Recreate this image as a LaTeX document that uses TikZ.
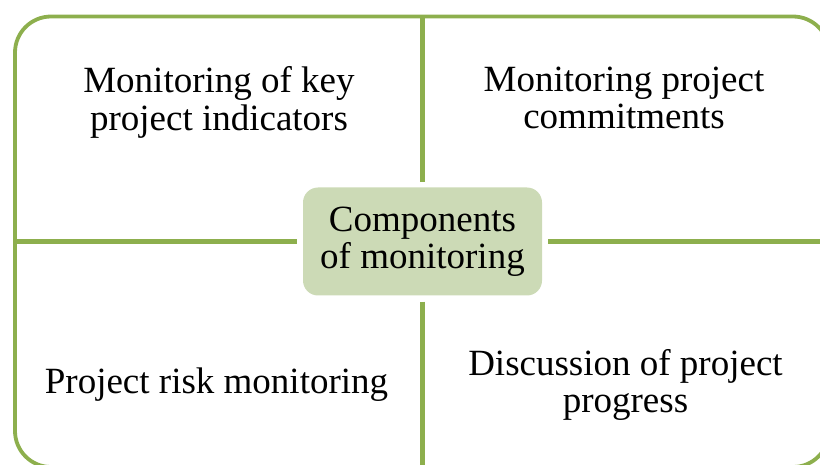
\documentclass[tikz,border=0pt]{standalone}
\usepackage{fontspec}
\setmainfont{Liberation Serif}
\definecolor{frame}{HTML}{8DAF4D}
\definecolor{cfill}{HTML}{CCDAB6}
\tikzset{
  lbl/.style={align=center, inner sep=0pt, font=\fontsize{37}{37.5}\selectfont},
  cbox/.style={lbl, fill=cfill, rounded corners=15pt, minimum width=239pt, minimum height=108pt},
  framestyle/.style={draw=frame, line width=3.8pt},
  divider/.style={draw=frame, line width=4.8pt},
}
\begin{document}
\begin{tikzpicture}[x=1pt, y=-1pt]
\useasboundingbox (0,0) rectangle (820,465);
\draw[framestyle, rounded corners=36pt] (15,16.5) rectangle (829,467);
\coordinate (tm) at (422.5,16.5);
\coordinate (bm) at (422.5,467);
\coordinate (lm) at (15,241.5);
\coordinate (rm) at (829,241.5);
\node[cbox] (c) at (422.5,241.5) {Components\\of monitoring};
\draw[divider, shorten >=5pt] (tm) -- (c.north);
\draw[divider, shorten <=6pt] (c.south) -- (bm);
\draw[divider, shorten >=6pt] (lm) -- (c.west);
\draw[divider, shorten <=6pt] (c.east) -- (rm);
\node[lbl] (tl) at (219,102.4) {Monitoring of key\\project indicators};
\node[lbl] (tr) at (624,98) {Monitoring project\\commitments};
\node[lbl, anchor=base] (bl) at (216.5,393) {Project risk monitoring};
\node[lbl] (br) at (625.5,385) {Discussion of project\\progress};
\end{tikzpicture}
\end{document}
